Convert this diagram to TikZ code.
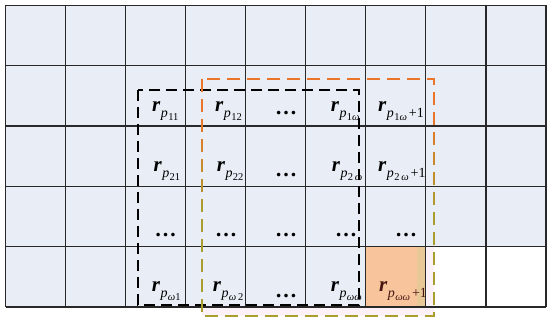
\documentclass[tikz,border=0pt]{standalone}
\usepackage{fontspec}
\setmainfont{Liberation Serif}
\definecolor{cellc}{RGB}{233,238,246}
\definecolor{peach}{RGB}{247,196,156}
\definecolor{peachstrip}{RGB}{233,200,152}
\definecolor{orangec}{RGB}{234,116,40}
\definecolor{olivec}{RGB}{168,158,46}
\definecolor{pinkc}{RGB}{252,241,247}
\definecolor{gridc}{RGB}{40,40,40}
\definecolor{darkr}{RGB}{70,22,18}
\newcommand{\rsym}[2]{{\fontsize{21}{21}\selectfont\bfseries\itshape r}\kern0.6pt\raisebox{-6pt}{\fontsize{14}{14}\selectfont\itshape p\kern0.3pt\raisebox{-3pt}{\fontsize{10.5}{10.5}\selectfont\upshape #1}{\upshape #2}}}
\newcommand{\dotsym}{{\fontsize{22}{22}\selectfont\bfseries …}}
\newcommand{\om}{\textit{ω}}
\tikzset{
  gridline/.style={draw=gridc, line width=1.2pt},
  bbox/.style={draw=black, line width=2pt, dash pattern=on 11pt off 6pt},
  orangewin/.style={line width=2.2pt, dash pattern=on 13pt off 7pt},
  lbl/.style={anchor=base west, inner sep=0pt},
  dlbl/.style={anchor=base, inner sep=0pt},
}
\begin{document}
\begin{tikzpicture}[x=1pt,y=-1pt]
\useasboundingbox (0,0) rectangle (550,320);
% coordinates of the dashed boxes
\coordinate (b1) at (138,90);
\coordinate (b2) at (359,305);
\coordinate (o1) at (202,79);
\coordinate (o2) at (434,316);
% faint pink tint of the window
\fill[pinkc] (o1) rectangle (o2);
% cells
\foreach \i in {0,...,8}{
  \foreach \j in {0,...,4}{
    \pgfmathsetmacro{\xa}{5.5+60.05*\i}
    \pgfmathsetmacro{\ya}{5.5+60.3*\j}
    \pgfmathsetmacro{\xb}{\xa+60.05}
    \pgfmathsetmacro{\yb}{\ya+60.3}
    \ifnum\j=4
      \ifnum\i<6 \fill[cellc] (\xa,\ya) rectangle (\xb,\yb); \fi
      \ifnum\i=6
        \fill[peach] (\xa,\ya) rectangle (\xb,\yb);
        \fill[peachstrip] (\xb-9,\ya) rectangle (\xb,\yb);
      \fi
    \else
      \fill[cellc] (\xa,\ya) rectangle (\xb,\yb);
    \fi
  }
}
% grid lines
\foreach \i in {0,...,9}{
  \pgfmathsetmacro{\xa}{5.5+60.05*\i}
  \draw[gridline] (\xa,5.5) -- (\xa,307);
}
\foreach \j in {0,...,5}{
  \pgfmathsetmacro{\ya}{5.5+60.3*\j}
  \draw[gridline] (5.5,\ya) -- (546,\ya);
}
% labels row 2
\node[lbl] (r11) at (152,112) {\rsym{11}{}};
\node[lbl] (r12) at (215,112) {\rsym{12}{}};
\node[dlbl] (d1) at (286,115) {\dotsym};
\node[lbl] (r1w) at (330.7,112) {\rsym{1\om}{}};
\node[lbl] (r1w1) at (378,112) {\rsym{1\om}{\kern2pt+1}};
% row 3
\node[lbl] (r21) at (153.3,172) {\rsym{21}{}};
\node[lbl] (r22) at (216.7,172) {\rsym{22}{}};
\node[dlbl] (d2) at (286,176.5) {\dotsym};
\node[lbl] (r2w) at (331.7,172) {\rsym{2\,\om}{}};
\node[lbl] (r2w1) at (378,172) {\rsym{2\,\om}{\kern2pt+1}};
% row 4
\node[dlbl] (d3) at (165.5,236.5) {\dotsym};
\node[dlbl] (d4) at (226,236.5) {\dotsym};
\node[dlbl] (d5) at (286,236.5) {\dotsym};
\node[dlbl] (d6) at (346,236.5) {\dotsym};
\node[dlbl] (d7) at (406,236.5) {\dotsym};
% row 5
\node[lbl] (rw1) at (151.7,292) {\rsym{\om1}{}};
\node[lbl] (rw2) at (212.7,292) {\rsym{\om\,2}{}};
\node[dlbl] (d8) at (286,298) {\dotsym};
\node[lbl] (rww) at (330.7,292) {\rsym{\om\om}{}};
\node[lbl, text=darkr] (rww1) at (379,292) {\rsym{\om\om}{\kern2pt+1}};
% black dashed window
\draw[bbox] (b1) rectangle (b2);
% orange-to-olive dashed window: orange base, olive blended in towards the bottom
\draw[orangewin, draw=orangec] (o1) rectangle (o2);
\foreach \k in {0,...,20}{
  \pgfmathsetmacro{\ya}{115+\k*10}
  \pgfmathsetmacro{\yb}{\ya+13}
  \pgfmathsetmacro{\mix}{min(100,(\k+0.5)*10)}
  \begin{scope}
    \clip (190,\ya) rectangle (446,\yb);
    \draw[orangewin, draw=olivec!\mix!orangec] (o1) rectangle (o2);
  \end{scope}
}
\end{tikzpicture}
\end{document}
